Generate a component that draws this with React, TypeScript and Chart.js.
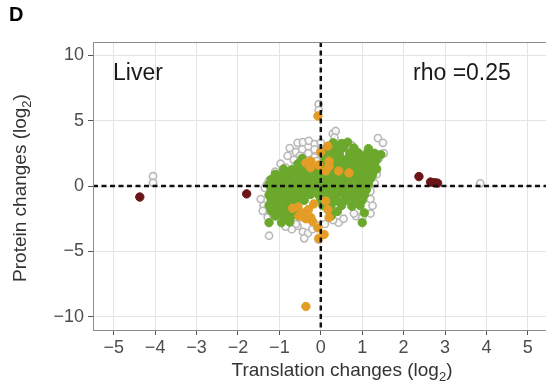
import React, { useEffect, useRef } from "react";
import { Chart, registerables } from "chart.js";
Chart.register(...registerables);

const X_TICKS = [-5, -4, -3, -2, -1, 0, 1, 2, 3, 4, 5];
const Y_TICKS = [-10, -5, 0, 5, 10];

const GRAY_POINTS: [number, number][] = [
  [-4.05, 0.75], [-4.05, 0.25], [3.85, 0.2], [-0.05, 6.25], [-0.05, 5.8],
  [-0.56, 3.3], [-0.43, 3.35], [-0.29, 3.45], [-0.15, 3.2], [-0.6, 2.6], [-0.75, 2.9],
  [-0.45, 2.8], [-0.3, 2.5], [-0.15, 2.8], [0.0, 2.7], [-0.65, 2.0], [-0.5, 2.3],
  [-0.8, 2.3], [-0.97, 1.7], [-0.85, 1.4], [-0.6, 1.6], [-0.15, 2.2], [0.0, 3.3],
  [-1.1, 1.1], [-1.25, 0.4], [-1.04, 0.76], [-1.3, 0.1], [-0.1, 1.9], [0.0, 1.3], [-0.2, 1.0],
  [0.29, 4.0], [0.36, 4.2], [0.33, 3.7], [0.6, 2.9], [0.5, 3.0], [0.75, 3.1],
  [1.38, 3.66], [1.5, 3.3], [1.52, 2.5], [1.4, 2.1], [1.28, 1.3], [1.35, 0.9], [1.24, 0.6], [1.3, 0.2],
  [1.2, -0.4], [1.2, -1.0], [1.25, -1.5], [1.2, -2.1], [0.85, -2.3], [0.8, -2.1],
  [0.43, -2.8], [0.55, -2.5], [1.0, -2.4],
  [-1.35, -0.15], [-1.45, -1.0], [-1.38, -1.5], [-1.4, -1.9], [-1.28, -2.4], [-1.25, -3.8], [-1.15, -2.2],
  [-0.56, -3.05], [-0.43, -3.5], [-0.31, -3.6], [-0.4, -4.0], [-0.2, -3.3], [-0.48, -2.4],
  [-0.6, -2.9], [-0.05, -4.1], [-0.1, -3.0], [0.1, -2.9], [0.3, -2.6], [-0.7, -3.3], [-0.85, -3.1],
];

const GREEN_POINTS: [number, number][] = [
  [0.3, 3.3], [0.5, 3.25], [0.65, 3.35],
  [0.15, 2.9], [0.35, 2.85], [0.55, 2.95], [0.8, 2.9], [1.15, 2.85],
  [0.05, 2.5], [0.25, 2.55], [0.45, 2.45], [0.7, 2.5], [0.9, 2.55], [1.1, 2.45], [1.3, 2.5], [1.45, 2.4],
  [-0.45, 2.1], [0.1, 2.1], [0.3, 2.15], [0.5, 2.05], [0.65, 2.1], [0.85, 2.15], [1.0, 2.05], [1.2, 2.1], [1.35, 2.0],
  [-0.55, 1.7], [-0.35, 1.65], [0.05, 1.7], [0.2, 1.75], [0.4, 1.7], [0.6, 1.65], [0.75, 1.7], [0.95, 1.75], [1.1, 1.7], [1.3, 1.65],
  [-0.9, 1.3], [-0.7, 1.25], [-0.5, 1.3], [-0.3, 1.35], [-0.1, 1.3], [0.1, 1.25], [0.3, 1.3], [0.5, 1.35], [0.7, 1.3], [0.85, 1.25], [1.0, 1.3], [1.2, 1.35], [1.35, 1.3],
  [-1.1, 0.9], [-0.95, 0.85], [-0.75, 0.9], [-0.55, 0.95], [-0.35, 0.9], [-0.15, 0.85], [0.05, 0.9], [0.25, 0.95], [0.45, 0.9], [0.6, 0.85], [0.8, 0.9], [0.95, 0.95], [1.1, 0.9], [1.25, 0.85],
  [-1.2, 0.5], [-1.05, 0.55], [-0.85, 0.5], [-0.65, 0.45], [-0.45, 0.5], [-0.25, 0.55], [-0.05, 0.5], [0.15, 0.45], [0.35, 0.5], [0.55, 0.55], [0.7, 0.5], [0.9, 0.45], [1.05, 0.5], [1.2, 0.55],
  [-1.25, 0.1], [-1.1, 0.15], [-0.9, 0.1], [-0.7, 0.05], [-0.5, 0.1], [-0.3, 0.15], [-0.1, 0.1], [0.1, 0.05], [0.3, 0.1], [0.5, 0.15], [0.65, 0.1], [0.85, 0.05], [1.0, 0.1], [1.15, 0.15],
  [-1.2, -0.3], [-1.0, -0.25], [-0.8, -0.3], [-0.6, -0.35], [-0.4, -0.3], [-0.2, -0.25], [0.0, -0.3], [0.2, -0.35], [0.4, -0.3], [0.6, -0.25], [0.8, -0.3], [0.95, -0.35], [1.1, -0.3],
  [-1.25, -0.7], [-1.05, -0.65], [-0.85, -0.7], [-0.65, -0.75], [-0.45, -0.7], [-0.25, -0.65], [-0.05, -0.7], [0.15, -0.75], [0.35, -0.7], [0.55, -0.65], [0.75, -0.7], [0.9, -0.75], [1.05, -0.7],
  [-1.2, -1.1], [-1.0, -1.05], [-0.8, -1.1], [-0.6, -1.15], [-0.4, -1.1], [0.0, -1.05], [0.2, -1.1], [0.4, -1.15], [0.6, -1.1], [0.8, -1.05], [1.0, -1.1],
  [-1.25, -1.5], [-1.05, -1.45], [-0.85, -1.5], [-0.65, -1.55], [0.05, -1.5], [0.25, -1.45], [0.5, -1.5], [0.75, -1.55], [0.95, -1.5],
  [-1.2, -1.9], [-1.0, -1.95], [-0.8, -1.9], [-0.6, -1.85], [0.2, -1.9], [0.4, -1.95], [1.05, -2.05],
  [-1.1, -2.3], [-0.9, -2.35], [-0.7, -2.3], [0.25, -2.3],
  [-1.25, -2.8], [-0.95, -2.8], [-0.75, -2.75], [1.0, -2.8],
];

const ORANGE_POINTS: [number, number][] = [
  [-0.07, 5.35], [0.17, 3.05], [0.0, 2.6], [-0.36, 1.76], [-0.24, 1.9], [0.2, 1.5], [0.2, 1.9],
  [0.43, 1.15], [0.68, 1.0], [0.12, 1.15], [-0.25, 1.4], [-0.05, 1.6],
  [-0.68, -1.7], [-0.55, -1.6], [-0.43, -2.06], [-0.3, -1.8], [-0.24, -2.4], [-0.36, -2.5],
  [-0.17, -1.37], [0.12, -1.15], [0.17, -1.8], [0.2, -2.4], [-0.07, -3.2], [-0.05, -4.0],
  [0.08, -3.7], [-0.53, -2.3], [-0.2, -2.7], [-0.36, -9.2],
];

const DARKRED_POINTS: [number, number][] = [
  [-4.37, -0.84], [-1.79, -0.6], [2.37, 0.72], [2.65, 0.3], [2.75, 0.25], [2.82, 0.22],
];

const FONT = "'Liberation Sans', Arial, Helvetica, sans-serif";

const fmt = (v: number) => (v < 0 ? "\u2212" + Math.abs(v) : String(v));

function drawSubText(ctx: CanvasRenderingContext2D, main: string, sub: string, tail: string, cx: number, cy: number, size: number) {
  ctx.font = `${size}px ${FONT}`;
  const w1 = ctx.measureText(main).width;
  const w3 = ctx.measureText(tail).width;
  ctx.font = `${Math.round(size * 0.7)}px ${FONT}`;
  const w2 = ctx.measureText(sub).width;
  let x = cx - (w1 + w2 + w3) / 2;
  ctx.textBaseline = "middle";
  ctx.textAlign = "left";
  ctx.font = `${size}px ${FONT}`;
  ctx.fillText(main, x, cy);
  x += w1;
  ctx.font = `${Math.round(size * 0.7)}px ${FONT}`;
  ctx.fillText(sub, x, cy + size * 0.32);
  x += w2;
  ctx.font = `${size}px ${FONT}`;
  ctx.fillText(tail, x, cy);
}

const overlay = {
  id: "overlay",
  afterDatasetsDraw(chart: any) {
    const { ctx, chartArea: a, scales } = chart;
    const x0 = scales.x.getPixelForValue(0);
    const y0 = scales.y.getPixelForValue(0);
    ctx.save();
    ctx.strokeStyle = "#111";
    ctx.lineWidth = 2.5;
    ctx.setLineDash([5, 3.5]);
    ctx.beginPath();
    ctx.moveTo(a.left, y0);
    ctx.lineTo(a.right, y0);
    ctx.stroke();
    ctx.beginPath();
    ctx.moveTo(x0, a.top);
    ctx.lineTo(x0, a.bottom);
    ctx.stroke();
    ctx.restore();
  },
  afterDraw(chart: any) {
    const { ctx, chartArea: a } = chart;
    ctx.save();
    ctx.strokeStyle = "#8c8c8c";
    ctx.lineWidth = 1;
    ctx.strokeRect(a.left + 0.5, a.top + 0.5, a.right - a.left, a.bottom - a.top);
    ctx.fillStyle = "#1a1a1a";
    ctx.textBaseline = "middle";
    ctx.textAlign = "left";
    ctx.font = `23px ${FONT}`;
    ctx.fillText("Liver", 113, 74);
    ctx.fillText("rho =0.25", 413, 74);
    ctx.font = `bold 20px ${FONT}`;
    ctx.fillStyle = "#000";
    ctx.fillText("D", 9, 15);
    ctx.fillStyle = "#333";
    drawSubText(ctx, "Translation changes (log", "2", ")", 342, 371, 19);
    ctx.translate(21, 188);
    ctx.rotate(-Math.PI / 2);
    drawSubText(ctx, "Protein changes (log", "2", ")", 0, 0, 19);
    ctx.restore();
  },
};

const toXY = (pts: [number, number][]) => pts.map(([x, y]) => ({ x, y }));

export default function App() {
  const ref = useRef<HTMLCanvasElement>(null);
  useEffect(() => {
    if (!ref.current) return;
    const tickFont = { family: FONT, size: 18 };
    const chart = new Chart(ref.current, {
      type: "scatter",
      data: {
        datasets: [
          { data: toXY(DARKRED_POINTS), order: 0, pointRadius: 4.2, backgroundColor: "#6b1518", borderColor: "#6b1518", borderWidth: 1 },
          { data: toXY(ORANGE_POINTS), order: 1, pointRadius: 4.2, backgroundColor: "#e39d26", borderColor: "#e39d26", borderWidth: 1 },
          { data: toXY(GREEN_POINTS), order: 2, pointRadius: 4.2, backgroundColor: "#6ba82c", borderColor: "#6ba82c", borderWidth: 1 },
          { data: toXY(GRAY_POINTS), order: 3, pointRadius: 3.6, backgroundColor: "rgba(250,250,250,0.85)", borderColor: "#b9b9b9", borderWidth: 1.6 },
        ],
      },
      options: {
        responsive: false,
        animation: false,
        events: [],
        layout: { padding: { left: 0, top: 42, right: 10, bottom: 0 } },
        plugins: { legend: { display: false }, tooltip: { enabled: false } },
        scales: {
          x: {
            type: "linear",
            min: -5.5,
            max: 6.5,
            afterBuildTicks: (s: any) => { s.ticks = X_TICKS.map((v) => ({ value: v })); },
            afterFit: (s: any) => { s.height = 62; },
            grid: { color: "#e4e4e4", lineWidth: 1, tickColor: "#555", tickLength: 5 },
            border: { display: false },
            ticks: { font: tickFont, color: "#4d4d4d", padding: 2, maxRotation: 0, autoSkip: false, callback: (v: any) => fmt(Number(v)) },
          },
          y: {
            type: "linear",
            min: -11,
            max: 11,
            afterBuildTicks: (s: any) => { s.ticks = Y_TICKS.map((v) => ({ value: v })); },
            afterFit: (s: any) => { s.width = 93; },
            grid: { color: "#e4e4e4", lineWidth: 1, tickColor: "#555", tickLength: 5 },
            border: { display: false },
            ticks: { font: tickFont, color: "#4d4d4d", padding: 4, autoSkip: false, callback: (v: any) => fmt(Number(v)) },
          },
        },
      },
      plugins: [overlay],
    } as any);
    return () => chart.destroy();
  }, []);
  return (
    <div style={{ position: "fixed", left: 0, top: 0, width: 546, height: 392, overflow: "hidden", background: "#fff" }}>
      <canvas ref={ref} width={600} height={392} style={{ display: "block" }} />
    </div>
  );
}
